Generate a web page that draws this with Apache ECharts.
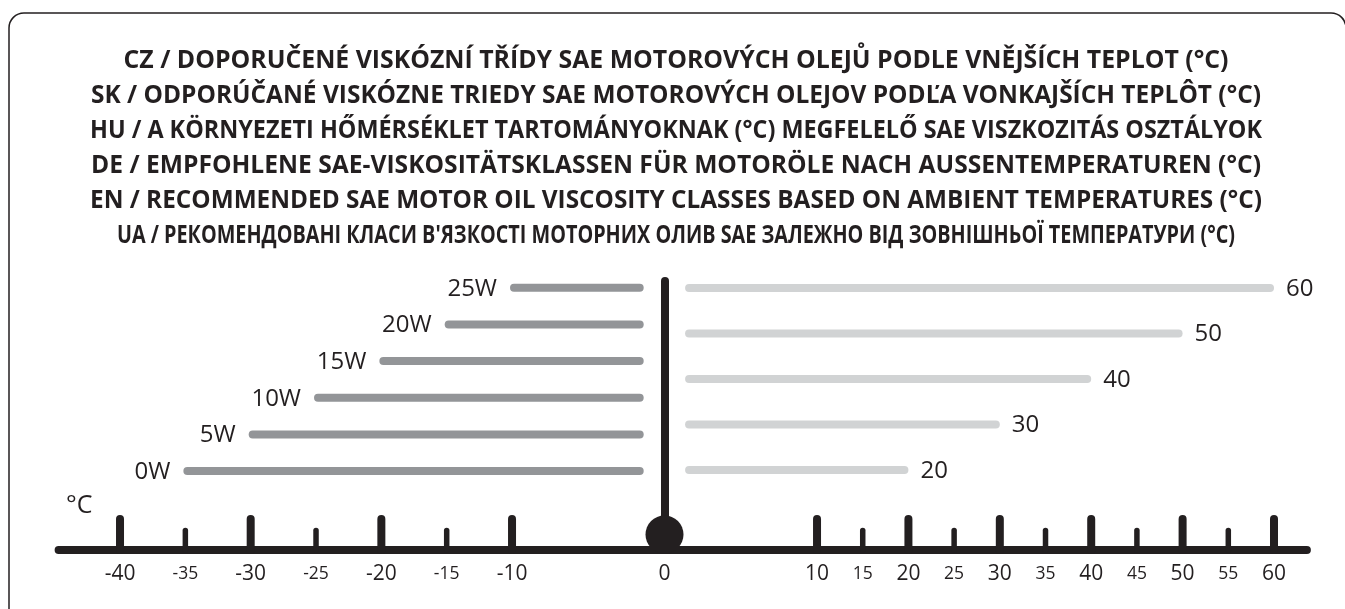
<!DOCTYPE html>
<html>
<head>
<meta charset="utf-8">
<script src="https://cdn.jsdelivr.net/npm/echarts@6/dist/echarts.min.js"></script>
<style>
html,body{margin:0;padding:0;background:#fff;}
#chart{width:1345px;height:609px;}
</style>
</head>
<body>
<div id="chart"></div>
<script>
// ---------- DATA ----------
const titleLines = [
  "CZ / DOPORUČENÉ VISKÓZNÍ TŘÍDY SAE MOTOROVÝCH OLEJŮ PODLE VNĚJŠÍCH TEPLOT (°C)",
  "SK / ODPORÚČANÉ VISKÓZNE TRIEDY SAE MOTOROVÝCH OLEJOV PODĽA VONKAJŠÍCH TEPLÔT (°C)",
  "HU / A KÖRNYEZETI HŐMÉRSÉKLET TARTOMÁNYOKNAK (°C) MEGFELELŐ SAE VISZKOZITÁS OSZTÁLYOK",
  "DE / EMPFOHLENE SAE-VISKOSITÄTSKLASSEN FÜR MOTORÖLE NACH AUSSENTEMPERATUREN (°C)",
  "EN / RECOMMENDED SAE MOTOR OIL VISCOSITY CLASSES BASED ON AMBIENT TEMPERATURES (°C)",
  "UA / РЕКОМЕНДОВАНІ КЛАСИ В'ЯЗКОСТІ МОТОРНИХ ОЛИВ SAE ЗАЛЕЖНО ВІД ЗОВНІШНЬОЇ ТЕМПЕРАТУРИ (°C)"
];
const winterGrades = ["0W", "5W", "10W", "15W", "20W", "25W"];
const winterFrom = [-35, -30, -25, -20, -15, -10];
const winterTo = 0;
const summerGrades = ["20", "30", "40", "50", "60"];
const summerTo = [20, 30, 40, 50, 60];
const summerFrom = -4;
const leftTicks = [-40, -35, -30, -25, -20, -15, -10];
const rightTicks = [10, 15, 20, 25, 30, 35, 40, 45, 50, 55, 60];
const zeroLabel = "0";
const unitLabel = "°C";

// ---------- STYLE ----------
const INK = "#231f20";
const DARK = "#939598";
const LIGHT = "#d1d3d4";
const FONT = "'Open Sans', 'Noto Sans', sans-serif";
const TITLE_SIZE = 25;
const TITLE_FONT_CSS = "bold " + TITLE_SIZE + "px 'Open Sans'";
// widths of the (condensed) title lines in the original artwork
const titleWidths = [1105, 1170, 1172, 1170, 1172, 1118];
const titleCenterX = 676, titleFirstY = 61, titleStep = 35;

// scales (pixel layout of the two broken halves of the temperature axis)
const L = {min: -44.7, max: 3, left: 58.6, width: 623.3};
const R = {min: -6, max: 63.6, left: 670.8, width: 636.1};

const measureCtx = document.createElement('canvas').getContext('2d');
measureCtx.font = TITLE_FONT_CSS;

const chart = echarts.init(document.getElementById('chart'), null, {renderer: 'canvas'});

function tickItem(params, api) {
  const v = api.value(0);
  const p = api.coord([v, 0]);
  const major = v % 10 === 0;
  return {
    type: 'group',
    children: [
      {type: 'line', shape: {x1: p[0], y1: p[1], x2: p[0], y2: p[1] - (major ? 31 : 19.5)},
       style: {stroke: INK, lineWidth: major ? 8 : 5.5, lineCap: 'round'}},
      {type: 'text', x: p[0], y: p[1] + 24,
       style: {text: String(v), fill: INK, fontFamily: FONT, fontSize: major ? 21 : 17.5,
               align: 'center', verticalAlign: 'middle'}}
    ]
  };
}

function winterItem(params, api) {
  const a = api.coord([api.value(0), api.value(2)]);
  const b = api.coord([api.value(1), api.value(2)]);
  const x1 = a[0] + 2, x2 = b[0] - 3;
  return {
    type: 'group',
    children: [
      {type: 'line', shape: {x1: x1, y1: a[1], x2: x2, y2: a[1]},
       style: {stroke: DARK, lineWidth: 8, lineCap: 'round'}},
      {type: 'text', x: x1 - 4 - 13, y: a[1] + 1,
       style: {text: winterGrades[params.dataIndex], fill: INK, fontFamily: FONT, fontSize: 24,
               align: 'right', verticalAlign: 'middle'}}
    ]
  };
}

function summerItem(params, api) {
  const a = api.coord([api.value(0), api.value(2)]);
  const b = api.coord([api.value(1), api.value(2)]);
  const x1 = a[0], x2 = b[0] - 4;
  return {
    type: 'group',
    children: [
      {type: 'line', shape: {x1: x1, y1: a[1], x2: x2, y2: a[1]},
       style: {stroke: LIGHT, lineWidth: 8, lineCap: 'round'}},
      {type: 'text', x: b[0] + 12, y: a[1] + 1,
       style: {text: summerGrades[params.dataIndex], fill: INK, fontFamily: FONT, fontSize: 24,
               align: 'left', verticalAlign: 'middle'}}
    ]
  };
}

const hiddenX = (s, gi) => ({type: 'value', gridIndex: gi, min: s.min, max: s.max, show: false});
const axisX = (s, gi) => ({
  type: 'value', gridIndex: gi, min: s.min, max: s.max,
  axisLine: {show: true, onZero: false, lineStyle: {color: INK, width: 8, cap: 'round'}},
  axisTick: {show: false}, axisLabel: {show: false}, splitLine: {show: false}
});

const titleGraphics = titleLines.map((t, i) => {
  const w = measureCtx.measureText(t).width || titleWidths[i];
  return {
    type: 'text', x: titleCenterX, y: titleFirstY + i * titleStep,
    scaleX: titleWidths[i] / w, z: 10,
    style: {text: t, fill: INK, fontFamily: "'Open Sans'", fontWeight: 'bold', fontSize: TITLE_SIZE,
            align: 'center', verticalAlign: 'middle'}
  };
});

const option = {
  backgroundColor: '#fff',
  animation: false,
  grid: [
    {left: L.left, width: L.width, top: 269.4, height: 220},     // winter bars
    {left: R.left, width: R.width, top: 265.25, height: 227.5},  // summer bars
    {left: L.left, width: L.width, top: 500, height: 50},        // left axis
    {left: R.left, width: R.width, top: 500, height: 50}         // right axis
  ],
  xAxis: [hiddenX(L, 0), hiddenX(R, 1), axisX(L, 2), axisX(R, 3)],
  yAxis: [
    {type: 'category', gridIndex: 0, data: winterGrades, show: false},
    {type: 'category', gridIndex: 1, data: summerGrades, show: false},
    {type: 'value', gridIndex: 2, min: 0, max: 1, show: false},
    {type: 'value', gridIndex: 3, min: 0, max: 1, show: false}
  ],
  series: [
    {type: 'custom', xAxisIndex: 0, yAxisIndex: 0, renderItem: winterItem,
     encode: {x: [0, 1], y: 2},
     data: winterGrades.map((g, i) => [winterFrom[i], winterTo, i])},
    {type: 'custom', xAxisIndex: 1, yAxisIndex: 1, renderItem: summerItem,
     encode: {x: [0, 1], y: 2},
     data: summerGrades.map((g, i) => [summerFrom, summerTo[i], i])},
    {type: 'custom', xAxisIndex: 2, yAxisIndex: 2, renderItem: tickItem, z: 5,
     encode: {x: 0, y: 1}, data: leftTicks.map(v => [v, 0])},
    {type: 'custom', xAxisIndex: 3, yAxisIndex: 3, renderItem: tickItem, z: 5,
     encode: {x: 0, y: 1}, data: rightTicks.map(v => [v, 0])}
  ],
  graphic: [
    {type: 'rect', shape: {x: 9, y: 13, width: 1337, height: 640, r: 15},
     style: {fill: 'none', stroke: INK, lineWidth: 1.5}, silent: true},
    {type: 'line', shape: {x1: 665, y1: 281, x2: 665, y2: 534},
     style: {stroke: INK, lineWidth: 8, lineCap: 'round'}, z: 10},
    {type: 'circle', shape: {cx: 664.5, cy: 534.5, r: 19}, style: {fill: INK}, z: 10},
    {type: 'text', x: 664.5, y: 574,
     style: {text: zeroLabel, fill: INK, fontFamily: FONT, fontSize: 21, align: 'center', verticalAlign: 'middle'}, z: 10},
    {type: 'text', x: 66, y: 506,
     style: {text: unitLabel, fill: INK, fontFamily: FONT, fontSize: 25, align: 'left', verticalAlign: 'middle'}, z: 10}
  ].concat(titleGraphics)
};
chart.setOption(option);
</script>
</body>
</html>
